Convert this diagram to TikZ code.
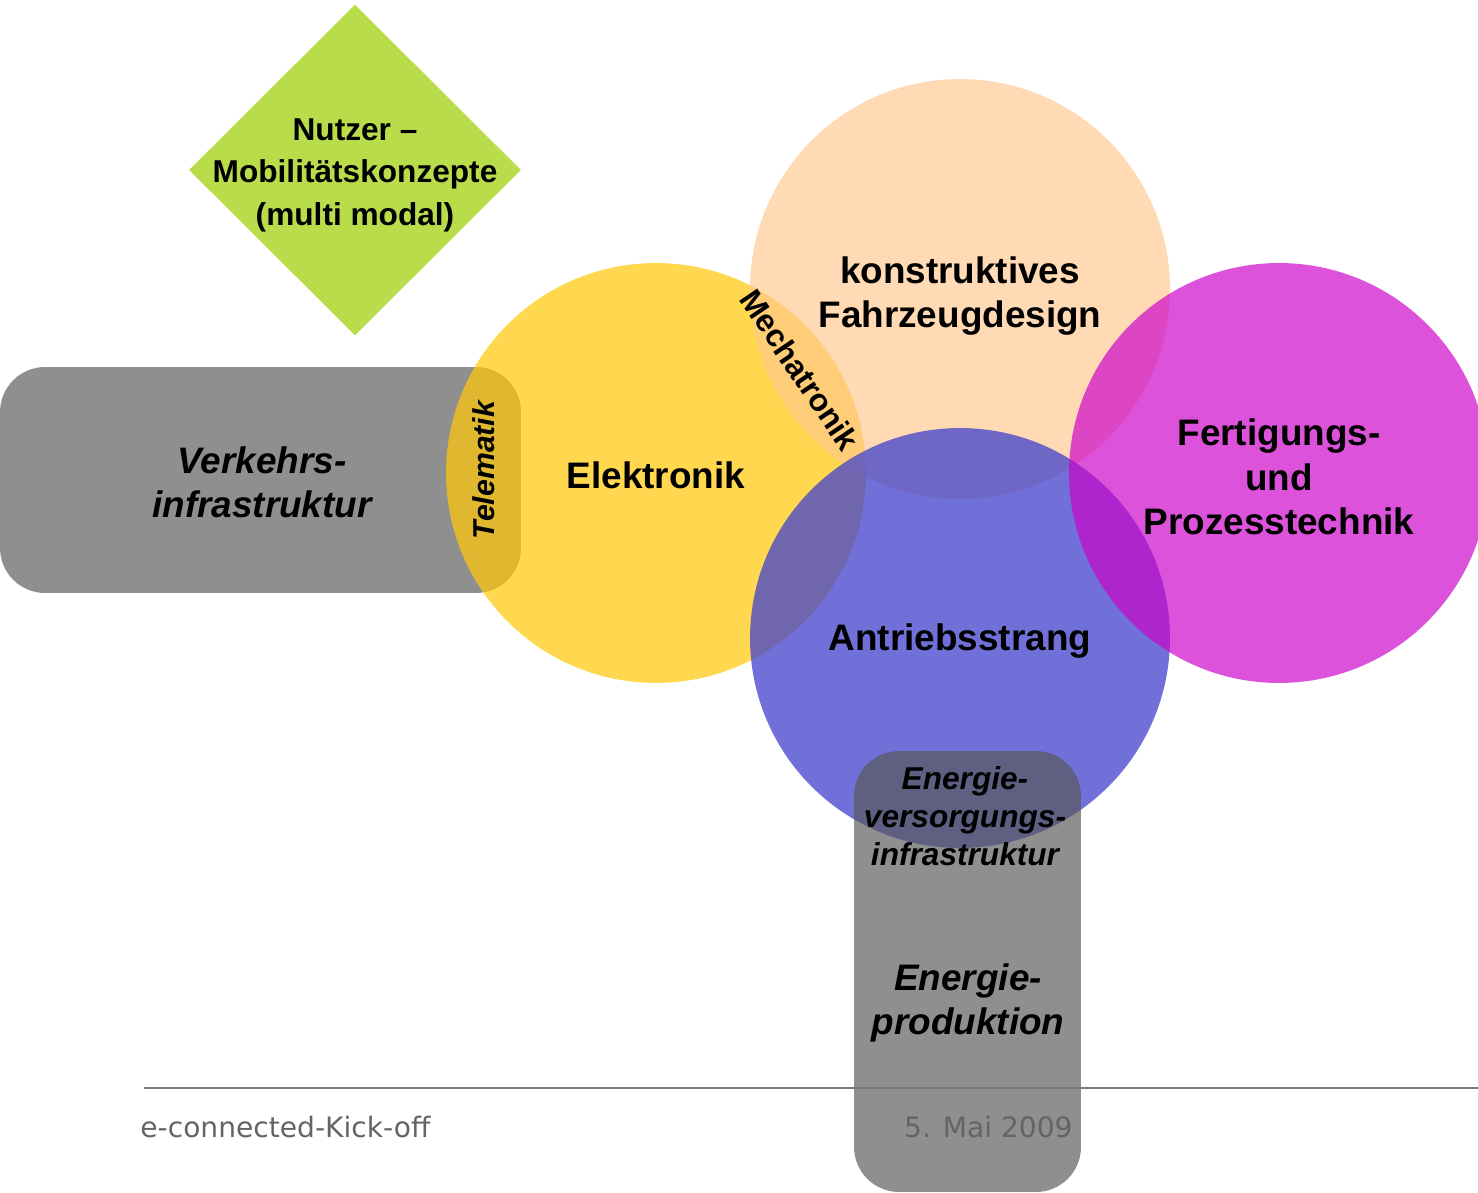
\documentclass[tikz,border=0pt]{standalone}
\usepackage{fontspec}
\setmainfont{Liberation Sans}
\newfontfamily\footfont{DejaVu Sans}
\usetikzlibrary{shapes.geometric}

\definecolor{boxgray}{RGB}{88,88,88}
\definecolor{elekyellow}{RGB}{255,201,11}
\definecolor{designpeach}{RGB}{255,199,141}
\definecolor{drivblue}{RGB}{69,69,204}
\definecolor{prodmagenta}{RGB}{204,0,201}
\definecolor{userlime}{RGB}{185,220,75}
\definecolor{footgray}{RGB}{100,100,100}

\begin{document}
\begin{tikzpicture}[x=0.02cm,y=-0.02cm,
    bubble/.style={circle,minimum size=8.4cm,inner sep=0pt},
    band/.style={rounded corners=0.9cm,fill=boxgray,fill opacity=0.67,inner sep=0pt},
    head/.style={align=center,font=\bfseries\fontsize{21}{25.2}\selectfont},
    lbl/.style={align=center,font=\bfseries\itshape\fontsize{21}{25}\selectfont},
    small/.style={align=center,font=\bfseries\fontsize{18}{24.2}\selectfont},
    foot/.style={text=footgray,inner sep=0pt,font=\footfont\fontsize{16}{18}\selectfont}]
  \useasboundingbox (0,0) rectangle (1478,1193);
  % shapes, back to front
  \node[diamond,aspect=1,fill=userlime,minimum width=6.64cm,minimum height=6.62cm,inner sep=0pt] (nutzer) at (355,170) {};
  \node[band,minimum width=10.42cm,minimum height=4.52cm] (verkehr) at (260.5,480) {};
  \node[bubble,fill=elekyellow,fill opacity=0.72] (elek) at (656,473) {};
  \node[bubble,fill=designpeach,fill opacity=0.66] (design) at (960,289) {};
  \node[bubble,fill=drivblue,fill opacity=0.77] (antrieb) at (960,638) {};
  \node[bubble,fill=prodmagenta,fill opacity=0.68] (fertig) at (1279,473) {};
  \node[band,minimum width=4.54cm,minimum height=8.82cm] (energie) at (967.5,971.5) {};
  % footer rule
  \coordinate (ruleL) at (144,1088);
  \coordinate (ruleR) at (1478,1088);
  \draw[footgray!85,line width=1.1pt] (ruleL) -- (ruleR);
  % labels
  \node[head] (elektxt) at (656,475) {Elektronik};
  \node[head] (designtxt) at (960,296) {konstruktives\\Fahrzeugdesign};
  \node[head] (antriebtxt) at (960,641) {Antriebsstrang};
  \node[head] (fertigtxt) at (1279,477) {Fertigungs-\\und\\Prozesstechnik};
  \node[small] (nutzertxt) at (355,175) {Nutzer --\\Mobilitätskonzepte\\(multi modal)};
  \node[lbl] (verkehrtxt) at (262,482) {Verkehrs-\\infrastruktur};
  \node[small,font=\bfseries\itshape\fontsize{17.2}{20}\selectfont,rotate=90] (telematik) at (484,470) {Telematik};
  \node[small,rotate=-56] (mecha) at (800,370) {Mechatronik};
  \node[lbl,font=\bfseries\itshape\fontsize{18}{21.5}\selectfont] (versorgung) at (965,816) {Energie-\\versorgungs-\\infrastruktur};
  \node[lbl] (produktion) at (968,1003) {Energie-\\produktion};
  \node[foot,anchor=west] (event) at (140,1127) {e-connected-Kick-off};
  \node[foot,anchor=east] (datum) at (1073,1127) {5. Mai 2009};
\end{tikzpicture}
\end{document}
